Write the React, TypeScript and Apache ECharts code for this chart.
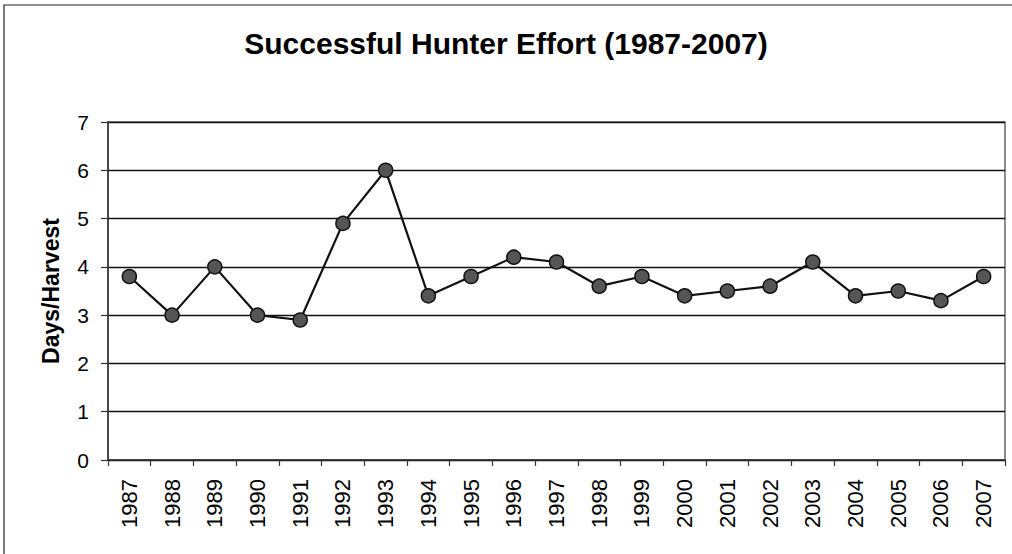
import React, { useEffect, useRef } from "react";
import * as echarts from "echarts";

const years = ["1987","1988","1989","1990","1991","1992","1993","1994","1995","1996","1997","1998","1999","2000","2001","2002","2003","2004","2005","2006","2007"];
const daysPerHarvest = [3.8, 3.0, 4.0, 3.0, 2.9, 4.9, 6.0, 3.4, 3.8, 4.2, 4.1, 3.6, 3.8, 3.4, 3.5, 3.6, 4.1, 3.4, 3.5, 3.3, 3.8];
const yTicks = { min: 0, max: 7, interval: 1 };
const titleText = "Successful Hunter Effort (1987-2007)";
const yAxisName = "Days/Harvest";

const FONT = "'Liberation Sans', Arial, sans-serif";

export default function App() {
  const ref = useRef<HTMLDivElement>(null);
  useEffect(() => {
    if (!ref.current) return;
    const chart = echarts.init(ref.current, undefined, { renderer: "svg" });
    chart.setOption({
      animation: false,
      backgroundColor: "#fff",
      title: {
        text: titleText,
        left: "center",
        top: 23,
        textStyle: { fontFamily: FONT, fontSize: 30, fontWeight: "bold", color: "#000" },
      },
      graphic: [
        {
          type: "rect",
          shape: { x: 4, y: 5, width: 1020, height: 560 },
          style: { fill: "none", stroke: "#222", lineWidth: 1.2 },
          silent: true,
        },
      ],
      grid: { left: 108, right: 7, top: 122, bottom: 94, show: true, borderColor: "#666", borderWidth: 1.5, backgroundColor: "transparent" },
      xAxis: {
        type: "category",
        data: years,
        boundaryGap: true,
        axisLine: { lineStyle: { color: "#333", width: 1.5 } },
        axisTick: { show: true, length: 6, lineStyle: { color: "#333", width: 1.2 }, alignWithLabel: false },
        axisLabel: { rotate: 90, margin: 19, fontFamily: FONT, fontSize: 22, color: "#000", interval: 0 },
        splitLine: { show: false },
      },
      yAxis: {
        type: "value",
        min: yTicks.min,
        max: yTicks.max,
        interval: yTicks.interval,
        name: yAxisName,
        nameLocation: "middle",
        nameGap: 46,
        nameTextStyle: { fontFamily: FONT, fontSize: 23, fontWeight: "bold", color: "#000" },
        axisLine: { show: true, lineStyle: { color: "#333", width: 1.5 } },
        axisTick: { show: true, length: 7, lineStyle: { color: "#333", width: 1.2 } },
        axisLabel: { margin: 19, fontFamily: FONT, fontSize: 21, color: "#000" },
        splitLine: { show: true, lineStyle: { color: "#111", width: 1.3 } },
      },
      series: [
        {
          type: "line",
          data: daysPerHarvest,
          symbol: "circle",
          symbolSize: 14,
          lineStyle: { color: "#111", width: 2.2 },
          itemStyle: { color: "#555", borderColor: "#111", borderWidth: 1.5 },
        },
      ],
    });
    return () => chart.dispose();
  }, []);
  return <div ref={ref} style={{ position: "fixed", left: 0, top: 0, width: 1012, height: 554 }} />;
}
